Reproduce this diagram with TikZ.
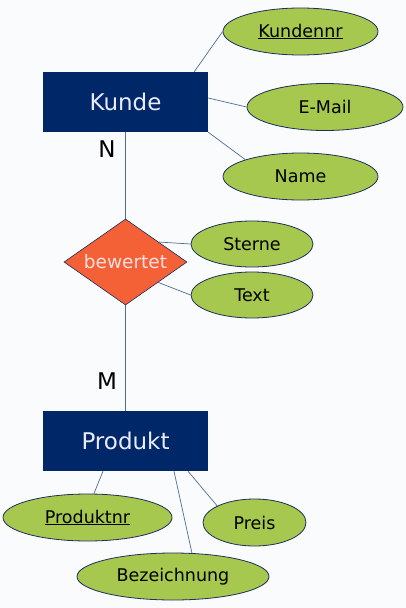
\documentclass[tikz,border=0pt]{standalone}
\usepackage{fontspec}
\setmainfont{DejaVu Sans}
\usetikzlibrary{shapes.geometric}

\definecolor{bgcol}{HTML}{FAFBFD}
\definecolor{navy}{HTML}{002868}
\definecolor{attrgreen}{HTML}{A6C84E}
\definecolor{relorange}{HTML}{F46137}
\definecolor{linecol}{HTML}{4F6C9C}
\definecolor{rimcol}{HTML}{1E2D5C}

\begin{document}
\begin{tikzpicture}[x=1pt,y=-1pt]
	% Styles for the ER parts
	\tikzset{entity/.style={rectangle,fill=navy,text=white!92!blue,minimum width=165pt,minimum height=60pt,inner sep=0pt,font=\fontsize{23}{23}\selectfont}}
	\tikzset{attr/.style={ellipse,draw=rimcol,line width=0.8pt,fill=attrgreen,minimum height=47pt,inner sep=0pt,font=\fontsize{17.5}{18}\selectfont}}
	\tikzset{relation/.style={diamond,draw=rimcol,line width=0.6pt,fill=relorange,text=white!88!red,minimum width=123pt,minimum height=86pt,aspect=1.43,inner sep=0pt,font=\fontsize{18.5}{19}\selectfont}}
	\tikzset{conn/.style={draw=linecol,line width=0.7pt}}
	\tikzset{card/.style={font=\fontsize{23}{23}\selectfont}}
	
	% the background
	\fill[bgcol] (0,0) rectangle (406,608);
	
	% Draw the entities and the relation
	\node[entity] (kunde) at (125.5,102) {Kunde};
	\node[relation] (bewertet) at (125.5,262) {bewertet};
	\node[entity] (produkt) at (125.5,441) {Produkt};
	
	% Draw the attributes
	\node[attr,minimum width=155pt] (kundennr) at (300.5,31.5) {\underline{Kundennr}};
	\node[attr,minimum width=156pt] (email) at (325,107) {E-Mail};
	\node[attr,minimum width=155pt] (name) at (300.5,176.5) {Name};
	\node[attr,minimum width=122pt,minimum height=46pt] (sterne) at (252,244) {Sterne};
	\node[attr,minimum width=122pt,minimum height=46pt] (rtext) at (252,295) {Text};
	\node[attr,minimum width=169pt] (produktnr) at (87.5,517.5) {\underline{Produktnr}};
	\node[attr,minimum width=103pt] (preis) at (254.5,522.5) {Preis};
	\node[attr,minimum width=192pt] (bezeichnung) at (173,576.5) {Bezeichnung};
	
	% draw the connectors
	\draw[conn] (kunde) -- (bewertet);
	\draw[conn] (bewertet) -- (produkt);
	\draw[conn] ([xshift=-14pt]kunde.north east) -- (kundennr.west);
	\draw[conn] ([yshift=4pt]kunde.east) -- (email.west);
	\draw[conn] (kunde.south east) -- (name.163);
	\foreach \a/\b in {bewertet.31/sterne.west, bewertet.-32/rtext.west} {
		\draw[conn] (\a) -- (\b);
	}
	\draw[conn] ([xshift=-22.5pt]produkt.south) -- (produktnr.75);
	\draw[conn] ([xshift=48.5pt]produkt.south) -- (bezeichnung.51);
	\draw[conn] ([xshift=62.5pt]produkt.south) -- (preis.156);
	
	% draw cardinalities
	\node[card] (cardn) at (107,149) {N};
	\node[card] (cardm) at (107,381) {M};
\end{tikzpicture}
\end{document}
